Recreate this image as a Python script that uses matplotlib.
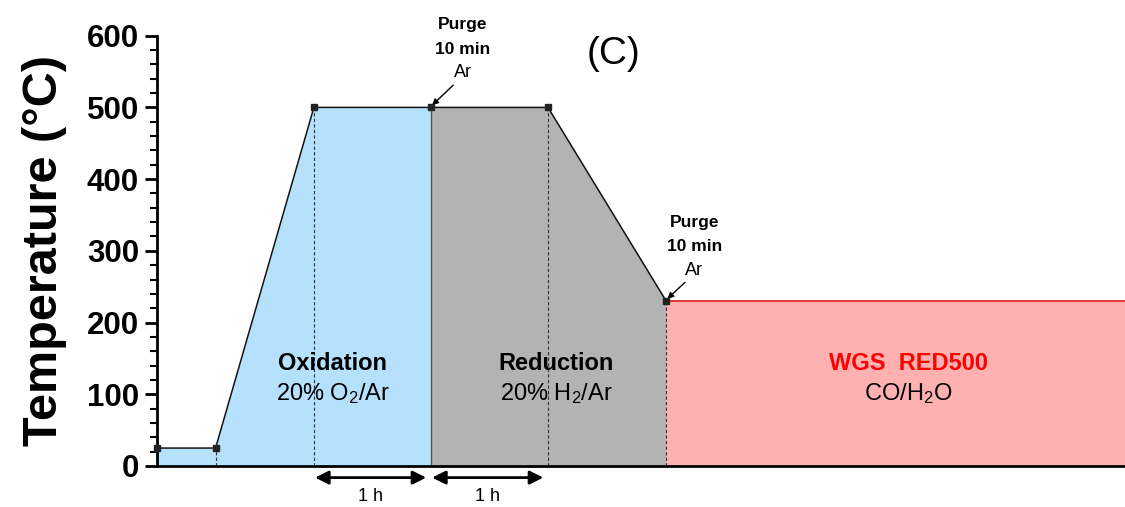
import matplotlib
matplotlib.use("Agg")
import matplotlib.pyplot as plt
from matplotlib.ticker import MultipleLocator

plt.rcParams['font.family'] = ['Liberation Sans', 'DejaVu Sans']
plt.rcParams['mathtext.fontset'] = 'custom'
plt.rcParams['mathtext.rm'] = 'Liberation Sans'
plt.rcParams['mathtext.it'] = 'Liberation Sans:italic'
plt.rcParams['mathtext.bf'] = 'Liberation Sans:bold'

# temperature program (time in hours, temperature in degC)
time_h = [0.0, 0.5, 1.34, 2.34, 3.34, 4.35, 8.27]
temp_c = [25, 25, 500, 500, 500, 230, 230]

# stage boundaries (hours)
oxid_start, oxid_end = 1.34, 2.34
red_end = 3.34
wgs_start = 4.35
t_end = 8.27

blue = '#b5e1fd'
grey = '#b3b3b3'
pink = '#ffb1b1'

fig = plt.figure(figsize=(11.25, 5.07), dpi=100)
ax = fig.add_axes([0.1396, 0.0809, 0.8604, 0.8487])

# shaded stages
ax.fill_between(time_h[:4], temp_c[:4], 0, color=blue, lw=0)
ax.fill_between(time_h[3:6], temp_c[3:6], 0, color=grey, lw=0)
ax.fill_between(time_h[5:], temp_c[5:], 0, color=pink, lw=0)

# temperature profile
ax.plot(time_h[:6], temp_c[:6], color='#111111', lw=1.1, zorder=3)
ax.plot(time_h[5:], temp_c[5:], color='#e8262b', lw=1.3, zorder=3)
ax.plot(time_h[:6], temp_c[:6], ls='none', marker='s', ms=4.5,
        color='#222222', zorder=4, clip_on=False)

# guide lines
for t, T in [(0.5, 25), (oxid_start, 500), (red_end, 500), (wgs_start, 230)]:
    ax.plot([t, t], [0, T], ls=(0, (3, 2)), color='#333333', lw=0.8, zorder=2)
ax.plot([oxid_end, oxid_end], [0, 500], color='#555555', lw=1.0, zorder=2)

ax.set_xlim(0, t_end)
ax.set_ylim(0, 600)
ax.set_xticks([])
ax.yaxis.set_major_locator(MultipleLocator(100))
ax.yaxis.set_minor_locator(MultipleLocator(20))
ax.tick_params(axis='y', which='major', length=9, width=2, labelsize=22.5, pad=4)
ax.tick_params(axis='y', which='minor', length=5, width=1.5)
for lab in ax.get_yticklabels():
    lab.set_fontweight('bold')
for s in ['top', 'right']:
    ax.spines[s].set_visible(False)
for s in ['left', 'bottom']:
    ax.spines[s].set_linewidth(2)
ax.set_ylabel('Temperature (°C)', fontsize=35, fontweight='bold', labelpad=14)

# stage labels
ax.text(1.5, 143, 'Oxidation', ha='center', va='center', fontsize=17, fontweight='bold')
ax.text(1.5, 101, '20% O$_2$/Ar', ha='center', va='center', fontsize=17)
ax.text(3.41, 143, 'Reduction', ha='center', va='center', fontsize=17, fontweight='bold')
ax.text(3.41, 101, '20% H$_2$/Ar', ha='center', va='center', fontsize=17)
ax.text(6.42, 143, 'WGS  RED500', ha='center', va='center', fontsize=17,
        fontweight='bold', color='#ff0000')
ax.text(6.42, 101, 'CO/H$_2$O', ha='center', va='center', fontsize=17)

ax.text(3.9, 574, '(C)', ha='center', va='center', fontsize=28)

# purge annotations: (time, temperature, text centre offset, "Purge" height)
for t, T, dx, y_top in [(oxid_end, 500, 0.27, 615), (wgs_start, 230, 0.24, 340)]:
    ax.text(t + dx, y_top, 'Purge', ha='center', va='center',
            fontsize=12.5, fontweight='bold', zorder=5, clip_on=False)
    ax.text(t + dx, y_top - 34, '10 min', ha='center', va='center',
            fontsize=12.5, fontweight='bold', zorder=5, clip_on=False)
    ax.text(t + dx, y_top - 67, 'Ar', ha='center', va='center',
            fontsize=13, zorder=5, clip_on=False)
    ax.annotate('', xy=(t + 0.01, T + 3), xytext=(t + dx - 0.08, y_top - 84),
                arrowprops=dict(arrowstyle='-|>', color='black', lw=1.0,
                                mutation_scale=9, shrinkA=0, shrinkB=0))

# one hour spans below the axis
xt = ax.get_xaxis_transform()
for t0, t1 in [(oxid_start, oxid_end), (oxid_end, red_end)]:
    ax.annotate('', xy=(t1 - 0.04, -0.027), xytext=(t0 + 0.01, -0.027),
                xycoords=xt, textcoords=xt, annotation_clip=False,
                arrowprops=dict(arrowstyle='<|-|>', color='black', lw=2,
                                mutation_scale=20, shrinkA=0, shrinkB=0))
    ax.text((t0 + t1) / 2 - 0.02, -0.072, '1 h', transform=xt, ha='center',
            va='center', fontsize=13, clip_on=False)

fig.savefig('out.png', dpi=100)
